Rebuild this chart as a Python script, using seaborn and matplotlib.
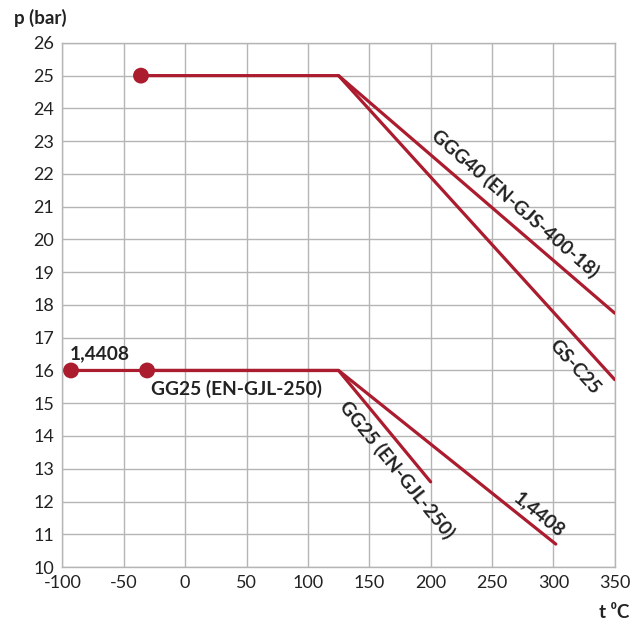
import matplotlib
matplotlib.use("Agg")
import matplotlib.pyplot as plt
import seaborn as sns
import pandas as pd

# data
ggg40_t = [-36, 125, 350]
ggg40_p = [25, 25, 17.75]
gsc25_t = [125, 350]
gsc25_p = [25, 15.72]
gg25_t = [-31, 125, 200]
gg25_p = [16, 16, 12.6]
s14408_t = [-93, 125, 302]
s14408_p = [16, 16, 10.7]

marker_t = [-36, -93, -31]
marker_p = [25, 16, 16]

x_ticks = [-100, -50, 0, 50, 100, 150, 200, 250, 300, 350]
y_ticks = list(range(10, 27))

sns.set_style("white")
plt.rcParams['font.family'] = ['Lato', 'DejaVu Sans']

RED = '#ab1c2f'
GRID = '#b5b5b5'

fig = plt.figure(figsize=(6.37, 6.24), dpi=100)
ax = fig.add_axes([0.098, 0.0913, 0.867, 0.84])

series = [(ggg40_t, ggg40_p), (gsc25_t, gsc25_p), (gg25_t, gg25_p), (s14408_t, s14408_p)]
for t, p in series:
    df = pd.DataFrame({'t': t, 'p': p})
    sns.lineplot(data=df, x='t', y='p', ax=ax, color=RED, linewidth=2.3,
                 sort=False, estimator=None, zorder=3)

mdf = pd.DataFrame({'t': marker_t, 'p': marker_p})
sns.scatterplot(data=mdf, x='t', y='p', ax=ax, color=RED, s=130,
                edgecolor='none', zorder=4)

ax.set_xlim(-100, 350)
ax.set_ylim(10, 26)
ax.set_xticks(x_ticks)
ax.set_yticks(y_ticks)
ax.set_xticklabels([str(v) for v in x_ticks])
ax.set_yticklabels([str(v) for v in y_ticks])
ax.tick_params(axis='both', labelsize=13, length=0, pad=6, colors='#222222')
ax.grid(True, color=GRID, linewidth=1.0)
ax.set_axisbelow(True)
for s in ax.spines.values():
    s.set_color(GRID)
    s.set_linewidth(1.0)
ax.set_xlabel('')
ax.set_ylabel('')

fig.text(14/637, 1 - 18/624, 'p (bar)', fontsize=13.5, fontweight='bold',
         ha='left', va='center', color='#222222')
fig.text(629/637, 1 - 613/624, 't \u2070C', fontsize=13.5, fontweight='bold',
         ha='right', va='center', color='#222222')

tc = '#222222'
fs = 13.8
ax.text(-94, 16.5, '1,4408', fontsize=fs, fontweight='bold', ha='left', va='center', color=tc)
ax.text(-28, 15.45, 'GG25 (EN-GJL-250)', fontsize=fs, fontweight='bold', ha='left', va='center', color=tc)
ax.text(269, 21.1, 'GGG40 (EN-GJS-400-18)', fontsize=fs, fontweight='bold', rotation=-41, ha='center', va='center',
        rotation_mode='anchor', color=tc)
ax.text(317, 16.1, 'GS-C25', fontsize=fs, fontweight='bold', rotation=-48, ha='center', va='center',
        rotation_mode='anchor', color=tc)
ax.text(172.5, 12.96, 'GG25 (EN-GJL-250)', fontsize=fs, fontweight='bold', rotation=-51, ha='center', va='center',
        rotation_mode='anchor', color=tc)
ax.text(288.7, 11.6, '1,4408', fontsize=fs, fontweight='bold', rotation=-39, ha='center', va='center',
        rotation_mode='anchor', color=tc)

fig.savefig('out.png', dpi=100)
